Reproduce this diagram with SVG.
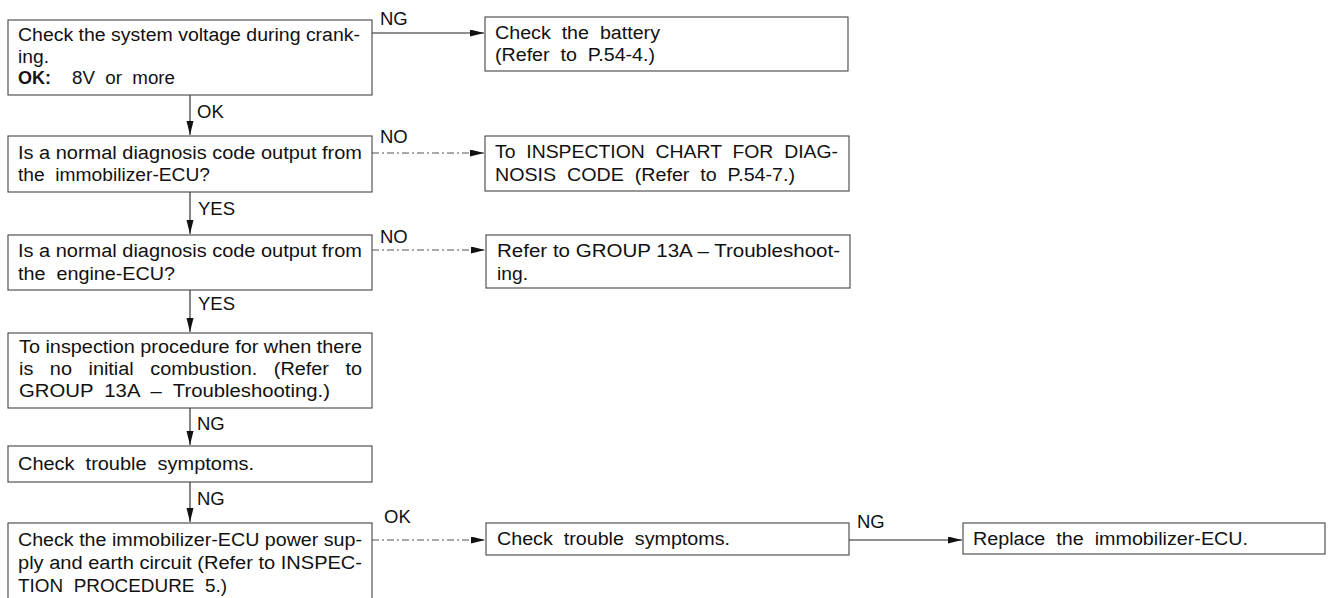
<svg xmlns="http://www.w3.org/2000/svg" width="1329" height="598" viewBox="0 0 1329 598">
<defs>
<style>
.bg{fill:#ffffff}
.box{fill:#ffffff;stroke:#444444;stroke-width:1.1}
.t{font-family:"Liberation Sans",Arial,Helvetica,sans-serif;font-size:18px;fill:#111111;white-space:pre}
.b{font-weight:bold}
.lbl{font-family:"Liberation Sans",Arial,Helvetica,sans-serif;font-size:18.5px;fill:#111111}
.c{fill:none;stroke:#222222;stroke-width:1.1}
.d{stroke:#555555;stroke-dasharray:7 3 2 3}
</style>
<marker id="ah" markerUnits="userSpaceOnUse" markerWidth="15" markerHeight="8" refX="14" refY="3.5" orient="auto">
<path d="M0,0 L14,3.5 L0,7 z" fill="#111111"/>
</marker>
</defs>
<rect class="bg" x="0" y="0" width="1329" height="598"/>

<g id="connectors">
<line class="c" x1="372" y1="33" x2="484" y2="33" marker-end="url(#ah)"/>
<line class="c" x1="190" y1="95" x2="190" y2="135" marker-end="url(#ah)"/>
<line class="c d" x1="372" y1="153" x2="484" y2="153" marker-end="url(#ah)"/>
<line class="c" x1="190" y1="192" x2="190" y2="234" marker-end="url(#ah)"/>
<line class="c d" x1="372" y1="250" x2="485" y2="250" marker-end="url(#ah)"/>
<line class="c" x1="190" y1="290" x2="190" y2="332" marker-end="url(#ah)"/>
<line class="c" x1="190" y1="408" x2="190" y2="445" marker-end="url(#ah)"/>
<line class="c" x1="190" y1="482" x2="190" y2="522" marker-end="url(#ah)"/>
<line class="c d" x1="372" y1="540" x2="485" y2="540" marker-end="url(#ah)"/>
<line class="c" x1="849" y1="540" x2="962" y2="540" marker-end="url(#ah)"/>
<text class="lbl" x="380" y="25">NG</text>
<text class="lbl" x="197" y="118">OK</text>
<text class="lbl" x="380" y="143">NO</text>
<text class="lbl" x="198" y="215">YES</text>
<text class="lbl" x="380" y="243">NO</text>
<text class="lbl" x="198" y="310">YES</text>
<text class="lbl" x="197" y="430">NG</text>
<text class="lbl" x="197" y="505">NG</text>
<text class="lbl" x="384" y="523">OK</text>
<text class="lbl" x="857" y="528">NG</text>
</g>

<g id="n1">
<rect class="box" x="8" y="20" width="364" height="75"/>
<text class="t" x="18" y="41" textLength="342" lengthAdjust="spacingAndGlyphs">Check the system voltage during crank-</text>
<text class="t" x="18" y="63" textLength="31" lengthAdjust="spacingAndGlyphs">ing.</text>
<text class="t b" x="18" y="84">OK:</text>
<text class="t" x="72" y="84" textLength="103" lengthAdjust="spacingAndGlyphs">8V  or  more</text>
</g>

<g id="n2">
<rect class="box" x="485" y="17" width="363" height="54"/>
<text class="t" x="495" y="39" textLength="165" lengthAdjust="spacingAndGlyphs">Check  the  battery</text>
<text class="t" x="495" y="61" textLength="160" lengthAdjust="spacingAndGlyphs">(Refer  to  P.54-4.)</text>
</g>

<g id="n3">
<rect class="box" x="8" y="136" width="364" height="56"/>
<text class="t" x="18" y="159" textLength="344" lengthAdjust="spacingAndGlyphs">Is a normal diagnosis code output from</text>
<text class="t" x="18" y="181" textLength="192" lengthAdjust="spacingAndGlyphs">the  immobilizer-ECU?</text>
</g>

<g id="n4">
<rect class="box" x="485" y="136" width="364" height="55"/>
<text class="t" x="495" y="158" textLength="343" lengthAdjust="spacingAndGlyphs">To  INSPECTION  CHART  FOR  DIAG-</text>
<text class="t" x="495" y="181" textLength="300" lengthAdjust="spacingAndGlyphs">NOSIS  CODE  (Refer  to  P.54-7.)</text>
</g>

<g id="n5">
<rect class="box" x="8" y="235" width="364" height="55"/>
<text class="t" x="18" y="257" textLength="344" lengthAdjust="spacingAndGlyphs">Is a normal diagnosis code output from</text>
<text class="t" x="18" y="280" textLength="157" lengthAdjust="spacingAndGlyphs">the  engine-ECU?</text>
</g>

<g id="n6">
<rect class="box" x="486" y="235" width="364" height="53"/>
<text class="t" x="497" y="257" textLength="343" lengthAdjust="spacingAndGlyphs">Refer to GROUP 13A – Troubleshoot-</text>
<text class="t" x="497" y="280" textLength="31" lengthAdjust="spacingAndGlyphs">ing.</text>
</g>

<g id="n7">
<rect class="box" x="8" y="333" width="364" height="75"/>
<text class="t" x="19" y="353" textLength="343" lengthAdjust="spacingAndGlyphs">To inspection procedure for when there</text>
<text class="t" x="19" y="375" textLength="343" lengthAdjust="spacingAndGlyphs">is   no   initial   combustion.   (Refer   to</text>
<text class="t" x="19" y="397" textLength="311" lengthAdjust="spacingAndGlyphs">GROUP  13A  –  Troubleshooting.)</text>
</g>

<g id="n8">
<rect class="box" x="8" y="446" width="364" height="36"/>
<text class="t" x="18" y="470" textLength="236" lengthAdjust="spacingAndGlyphs">Check  trouble  symptoms.</text>
</g>

<g id="n9">
<rect class="box" x="8" y="523" width="364" height="85"/>
<text class="t" x="18" y="546" textLength="344" lengthAdjust="spacingAndGlyphs">Check the immobilizer-ECU power sup-</text>
<text class="t" x="18" y="569" textLength="344" lengthAdjust="spacingAndGlyphs">ply and earth circuit (Refer to INSPEC-</text>
<text class="t" x="18" y="592" textLength="209" lengthAdjust="spacingAndGlyphs">TION  PROCEDURE  5.)</text>
</g>

<g id="n10">
<rect class="box" x="486" y="523" width="363" height="32"/>
<text class="t" x="497" y="545" textLength="233" lengthAdjust="spacingAndGlyphs">Check  trouble  symptoms.</text>
</g>

<g id="n11">
<rect class="box" x="963" y="523" width="362" height="31"/>
<text class="t" x="973" y="545" textLength="275" lengthAdjust="spacingAndGlyphs">Replace  the  immobilizer-ECU.</text>
</g>
</svg>
